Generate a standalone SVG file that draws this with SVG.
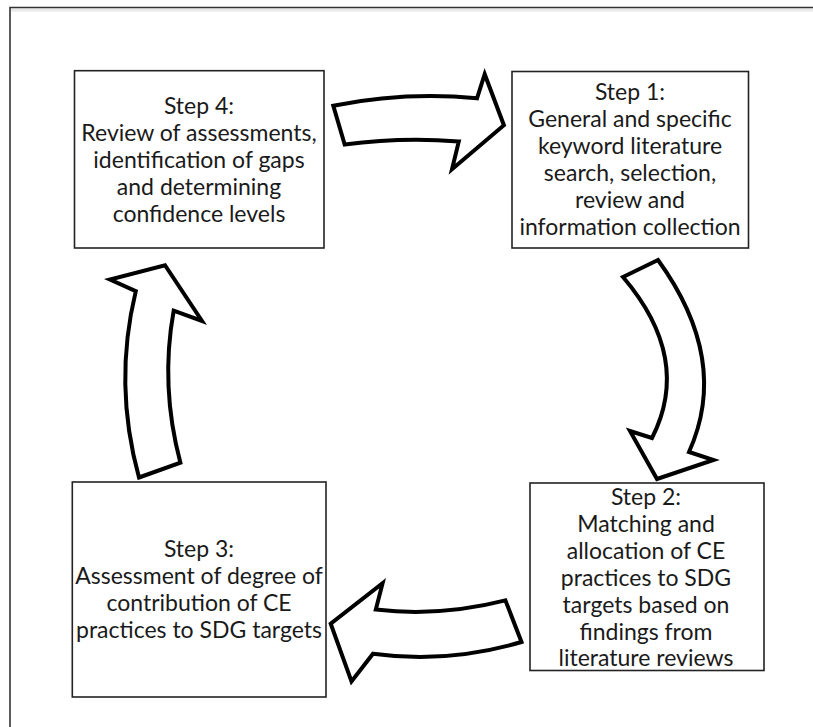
<svg xmlns="http://www.w3.org/2000/svg" width="813" height="727" viewBox="0 0 813 727">
<style>
.box{fill:#fff;stroke:#222;stroke-width:1.6}
.arrow{fill:#fff;stroke:#000;stroke-width:4;stroke-linejoin:miter;stroke-miterlimit:10}
.t{font-family:Lato,"Open Sans","Liberation Sans",sans-serif;font-size:23px;fill:#1a1a1a;text-anchor:middle}
</style>
<rect width="813" height="727" fill="#fff"/>
<g id="frame">
<line x1="11" y1="10" x2="813" y2="10" stroke="#e8e8e8" stroke-width="3"/>
<path d="M10,727 L10,7.5 L813,7.5" fill="none" stroke="#333" stroke-width="1.6"/>
</g>
<g id="connectors">
<path class="arrow" d="M333.3,105.7 Q405,91.4 477,98.3 L484.7,74.2 L503.9,125.2 L452,169.2 L458.8,141.4 Q400,137 344.7,144.6 Z"/>
<path class="arrow" d="M623,277 L658,260 Q730.5,360 689,452 L713.5,460 L657,479 L630,431 L652,438 Q692.5,358.5 623,277 Z"/>
<path class="arrow" d="M505.4,600.4 L521.5,642 Q447,664 373,653.7 L351.5,681.5 L330.7,623.6 L382.6,583.2 L375.8,609.6 Q440.6,617 505.4,600.4 Z"/>
<path class="arrow" d="M139,477.5 L180.4,462.7 Q160,386 173.7,310.6 L202,321 L165,265.2 L110,279.6 L135.8,291.1 Q113.2,384 139,477.5 Z"/>
</g>
<g id="step4">
<rect class="box" x="74.5" y="70.7" width="249.5" height="177.3"/>
<text class="t" x="199" y="114">Step 4:</text>
<text class="t" x="199" y="141">Review of assessments,</text>
<text class="t" x="199" y="168">identification of gaps</text>
<text class="t" x="199" y="195">and determining</text>
<text class="t" x="199" y="222">confidence levels</text>
</g>
<g id="step1">
<rect class="box" x="512" y="71.5" width="236.5" height="176.5"/>
<text class="t" x="630" y="99.5">Step 1:</text>
<text class="t" x="630" y="126.5">General and specific</text>
<text class="t" x="630" y="153.5">keyword literature</text>
<text class="t" x="630" y="180.5">search, selection,</text>
<text class="t" x="630" y="207.5">review and</text>
<text class="t" x="630" y="234.5">information collection</text>
</g>
<g id="step2">
<rect class="box" x="530" y="483" width="234" height="187.5"/>
<text class="t" x="646" y="504.5">Step 2:</text>
<text class="t" x="646" y="531.5">Matching and</text>
<text class="t" x="646" y="558.5">allocation of CE</text>
<text class="t" x="646" y="585.5">practices to SDG</text>
<text class="t" x="646" y="612.5">targets based on</text>
<text class="t" x="646" y="639.5">findings from</text>
<text class="t" x="646" y="666">literature reviews</text>
</g>
<g id="step3">
<rect class="box" x="72.3" y="482" width="253.7" height="215"/>
<text class="t" x="199" y="556.5">Step 3:</text>
<text class="t" x="199" y="583.5">Assessment of degree of</text>
<text class="t" x="199" y="610.5">contribution of CE</text>
<text class="t" x="199" y="637.5">practices to SDG targets</text>
</g>
</svg>
